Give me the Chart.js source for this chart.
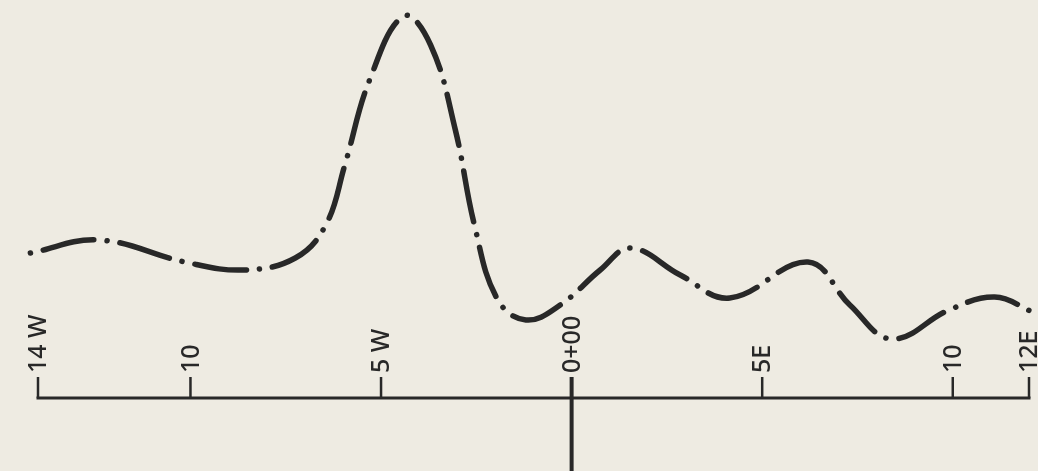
<!DOCTYPE html>
<html>
<head>
<meta charset="utf-8">
<script src="https://cdn.jsdelivr.net/npm/chart.js@4/dist/chart.umd.min.js"></script>
<style>
  html, body { margin: 0; padding: 0; background: #eeebe2; }
  #wrap { width: 1038px; height: 471px; }
</style>
</head>
<body>
<div id="wrap"><canvas id="myChart" width="1038" height="471"></canvas></div>
<script>
// position along the line (W negative, E positive) and height of the curve
const xValues = [-14.2, -12.4, -10.15, -8.6, -7.25, -6.45, -5.95, -5.3, -4.4, -3.7, -3.05, -2.55, -1.95, -1.2, -0.3, 0.75, 1.55, 2.85, 4.15, 6.2, 7.3, 8.4, 9.9, 11.1, 12.1]
const yValues = [14.5, 15.8, 13.6, 12.8, 14.0, 17.3, 23.3, 31.8, 38.2, 35.3, 26.8, 17.3, 9.9, 7.8, 9.3, 12.8, 15.0, 12.3, 10.0, 13.6, 9.3, 5.9, 8.8, 10.1, 8.6]

const tickValues = [-14, -10, -5, 0, 5, 10, 12]
const tickLabels = ['14 W', '10', '5 W', '0+00', '5E', '10', '12E']

const ink = '#282828'

const bgPlugin = {
    id: 'paper',
    beforeDraw(chart) {
        const ctx = chart.ctx
        ctx.save()
        ctx.fillStyle = '#eeebe2'
        ctx.fillRect(0, 0, chart.width, chart.height)
        ctx.restore()
    }
}

// baseline with upward ticks, rotated labels and the 0 station line
const axisPlugin = {
    id: 'stationAxis',
    afterDatasetsDraw(chart) {
        const ctx = chart.ctx
        const xs = chart.scales.x
        const ys = chart.scales.y
        const y0 = ys.getPixelForValue(0)
        const xl = xs.getPixelForValue(tickValues[0])
        const xr = xs.getPixelForValue(tickValues[tickValues.length - 1])
        ctx.save()
        ctx.strokeStyle = ink
        ctx.fillStyle = ink
        ctx.lineCap = 'butt'
        ctx.lineWidth = 3
        ctx.beginPath()
        ctx.moveTo(xl - 1.5, y0)
        ctx.lineTo(xr + 1.5, y0)
        ctx.stroke()

        ctx.lineWidth = 2.5
        tickValues.forEach((v, i) => {
            const px = xs.getPixelForValue(v)
            ctx.beginPath()
            ctx.moveTo(px, y0)
            ctx.lineTo(px, y0 - 21)
            ctx.stroke()

            ctx.save()
            ctx.translate(px, y0 - 25)
            ctx.rotate(-Math.PI / 2)
            ctx.font = '500 25px "Noto Sans"'
            ctx.textAlign = 'left'
            ctx.textBaseline = 'middle'
            ctx.fillText(tickLabels[i], 0, 1)
            ctx.restore()
        })

        const pz = xs.getPixelForValue(0)
        ctx.lineWidth = 4
        ctx.beginPath()
        ctx.moveTo(pz, y0 - 21)
        ctx.lineTo(pz, chart.height)
        ctx.stroke()
        ctx.restore()
    }
}

const points = xValues.map((x, i) => ({ x: x, y: yValues[i] }))

const ctx = document.getElementById('myChart')
const myChart = new Chart(ctx, {
    type: 'line',
    data: {
        datasets: [{
            data: points,
            borderColor: ink,
            borderWidth: 5.5,
            borderCapStyle: 'round',
            borderDash: [52, 13, 0.1, 13],
            borderDashOffset: 65,
            pointRadius: 0,
            tension: 0.4,
            fill: false,
            clip: false
        }]
    },
    options: {
        responsive: false,
        animation: false,
        layout: {
            padding: { left: 38, right: 9, top: 10, bottom: 73 }
        },
        plugins: {
            legend: { display: false },
            tooltip: { enabled: false }
        },
        scales: {
            x: { type: 'linear', min: -14, max: 12, display: false },
            y: { min: 0, max: 38.8, display: false }
        }
    },
    plugins: [bgPlugin, axisPlugin]
})
</script>
</body>
</html>
